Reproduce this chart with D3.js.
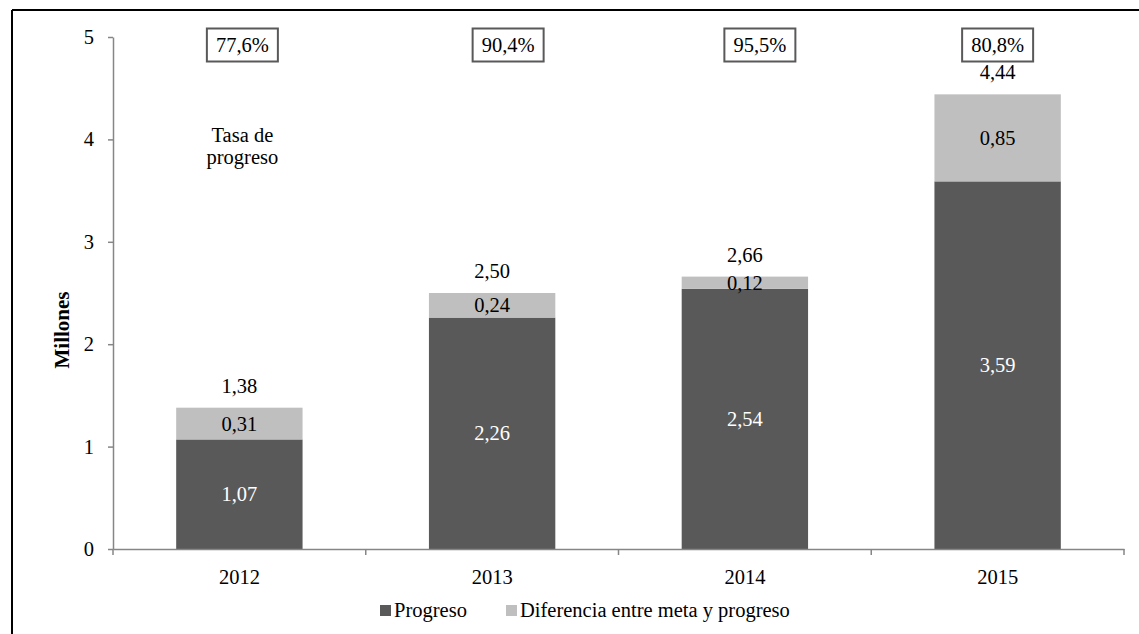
<!DOCTYPE html>
<html>
<head>
<meta charset="utf-8">
<script src="https://cdn.jsdelivr.net/npm/d3@7"></script>
<style>
  html, body { margin: 0; padding: 0; background: #fff; }
  svg { display: block; }
  svg text { font-family: "Liberation Serif", "Times New Roman", Times, "DejaVu Serif", serif; }
</style>
</head>
<body>
<svg id="chart" width="1139" height="634"></svg>
<script>
// Data (millions of people)
const years = ["2012", "2013", "2014", "2015"];
const progreso = [1.07, 2.26, 2.54, 3.59];
const diferencia = [0.31, 0.24, 0.12, 0.85];
const metas = [1.38, 2.50, 2.66, 4.44];
const tasas = [77.6, 90.4, 95.5, 80.8];
const yTicks = [0, 1, 2, 3, 4, 5];
const seriesNames = ["Progreso", "Diferencia entre meta y progreso"];

const DARK = "#595959", LIGHT = "#bfbfbf", AXIS = "#868686";
const FS = 20.5;

const locale = d3.formatLocale({ decimal: ",", thousands: ".", grouping: [3], currency: ["", ""] });
const fmt2 = locale.format(".2f");
const fmt1 = locale.format(".1f");

const svg = d3.select("#chart");

// Outer frame (top and left edges)
svg.append("line").attr("x1", 12).attr("x2", 1139).attr("y1", 10).attr("y2", 10)
  .attr("stroke", "#000").attr("stroke-width", 2);
svg.append("line").attr("x1", 12).attr("x2", 12).attr("y1", 10).attr("y2", 634)
  .attr("stroke", "#000").attr("stroke-width", 2);

const plot = { left: 113, right: 1124, top: 37, bottom: 549 };

const x = d3.scaleBand().domain(years)
  .range([plot.left, plot.right]).paddingInner(0.5).paddingOuter(0.25);
const y = d3.scaleLinear().domain([0, 5]).range([plot.bottom, plot.top]);

// Stacked series
const rows = years.map((yr, i) => ({ year: yr, progreso: progreso[i], diferencia: diferencia[i] }));
const stack = d3.stack().keys(["progreso", "diferencia"])(rows);
const colors = [DARK, LIGHT];
const textColors = ["#fff", "#000"];

stack.forEach((layer, li) => {
  const g = svg.append("g");
  g.selectAll("rect").data(layer).join("rect")
    .attr("x", d => x(d.data.year))
    .attr("width", x.bandwidth())
    .attr("y", d => y(d[1]))
    .attr("height", d => y(d[0]) - y(d[1]))
    .attr("fill", colors[li]);
  g.selectAll("text").data(layer).join("text")
    .attr("x", d => x(d.data.year) + x.bandwidth() / 2)
    .attr("y", d => (y(d[0]) + y(d[1])) / 2 + 7)
    .attr("text-anchor", "middle")
    .attr("font-size", FS)
    .attr("fill", textColors[li])
    .text(d => fmt2(d[1] - d[0]));
});

// Y axis
const yAxis = svg.append("g")
  .attr("transform", `translate(${plot.left},0)`)
  .call(d3.axisLeft(y).tickValues(yTicks).tickSize(5).tickSizeOuter(0).tickPadding(14).tickFormat(d3.format("d")));
yAxis.attr("font-family", null);
yAxis.select(".domain").attr("stroke", AXIS).attr("stroke-width", 1.5);
yAxis.selectAll(".tick line").attr("stroke", AXIS).attr("stroke-width", 1.5);
yAxis.selectAll(".tick text").attr("font-size", FS).attr("fill", "#000");

// X axis: category labels, ticks at band boundaries
const xAxis = svg.append("g")
  .attr("transform", `translate(0,${plot.bottom})`)
  .call(d3.axisBottom(x).tickSize(0).tickPadding(20));
xAxis.attr("font-family", null);
xAxis.select(".domain").attr("stroke", AXIS).attr("stroke-width", 1.5);
xAxis.selectAll(".tick text").attr("font-size", FS).attr("fill", "#000");
const bounds = years.map(yr => x(yr) - x.step() * x.paddingInner() / 2).concat([plot.right]);
xAxis.selectAll("line.bound").data(bounds).join("line")
  .attr("class", "bound")
  .attr("x1", d => d).attr("x2", d => d)
  .attr("y1", 0).attr("y2", 6)
  .attr("stroke", AXIS).attr("stroke-width", 1.5);

// Y axis title
svg.append("text")
  .attr("transform", `translate(69,330) rotate(-90)`)
  .attr("text-anchor", "middle")
  .attr("font-size", 21)
  .attr("font-weight", "bold")
  .text("Millones");

// Goal totals above bars
svg.append("g").selectAll("text").data(years).join("text")
  .attr("x", d => x(d) + x.bandwidth() / 2)
  .attr("y", (d, i) => y(metas[i]) - 15)
  .attr("text-anchor", "middle")
  .attr("font-size", FS)
  .text((d, i) => fmt2(metas[i]));

// Progress-rate boxes along the top
const boxShift = [3, 16, 15, 0];
const boxes = svg.append("g").selectAll("g").data(years).join("g")
  .attr("transform", (d, i) => `translate(${x(d) + x.bandwidth() / 2 + boxShift[i]},45)`);
boxes.append("rect")
  .attr("x", -35.5).attr("y", -16.5).attr("width", 71).attr("height", 33)
  .attr("fill", "#fff").attr("stroke", DARK).attr("stroke-width", 2);
boxes.append("text")
  .attr("y", 7)
  .attr("text-anchor", "middle")
  .attr("font-size", FS)
  .text((d, i) => fmt1(tasas[i]) + "%");

// Annotation
const noteX = x(years[0]) + x.bandwidth() / 2 + 3;
const note = svg.append("text")
  .attr("text-anchor", "middle")
  .attr("font-size", FS);
note.append("tspan").attr("x", noteX).attr("y", 142).text("Tasa de");
note.append("tspan").attr("x", noteX).attr("y", 164).text("progreso");

// Legend
const legendX = [380, 506];
const legend = svg.append("g").selectAll("g").data(seriesNames).join("g")
  .attr("transform", (d, i) => `translate(${legendX[i]},0)`);
legend.append("rect")
  .attr("x", 0).attr("y", 605).attr("width", 11).attr("height", 11)
  .attr("fill", (d, i) => colors[i]);
legend.append("text")
  .attr("x", 14).attr("y", 617)
  .attr("font-size", FS)
  .text(d => d);
</script>
</body>
</html>
